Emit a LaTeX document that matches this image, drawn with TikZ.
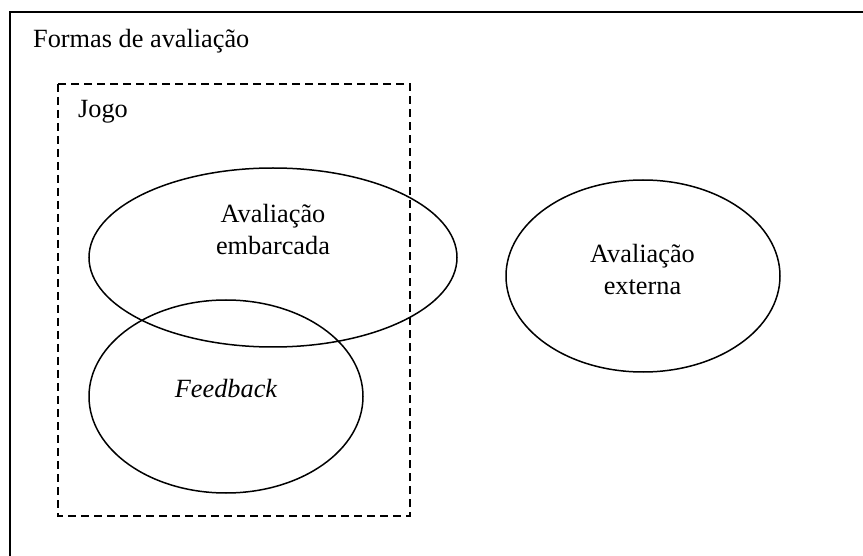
\documentclass[tikz,border=0pt]{standalone}
\usepackage{fontspec}
\setmainfont{Liberation Serif}
\usetikzlibrary{shapes.geometric}
\begin{document}
\begin{tikzpicture}[x=1pt,y=-1pt,
  every node/.style={font=\fontsize{26.3}{32}\selectfont},
  oval/.style={draw, ellipse, line width=1.5pt, inner sep=0pt},
  ]
\useasboundingbox (0,0) rectangle (863,556);
\clip (0,0) rectangle (863,556);
\draw[line width=2pt] (10,12) rectangle (900,600);
\node[anchor=base west, inner sep=0pt] (title) at (33,48) {Formas de avaliação};
\draw[dash pattern=on 8pt off 5pt, line width=1.5pt] (58,84) rectangle (410,516);
\node[anchor=base west, inner sep=0pt] (jogo) at (78,118) {Jogo};
\node[oval, minimum width=368pt, minimum height=179pt] (emb) at (273,257.5) {};
\node[oval, minimum width=274pt, minimum height=193pt] (fb) at (226,396.5) {};
\node[oval, minimum width=274pt, minimum height=192pt] (ext) at (643,276) {};
\node[anchor=base, inner sep=0pt] (embA) at (273,223) {Avaliação};
\node[anchor=base, inner sep=0pt] (embB) at (273,255) {embarcada};
\node[anchor=base, inner sep=0pt] (fbt) at (226,397) {\itshape Feedback};
\node[anchor=base, inner sep=0pt] (extA) at (642.5,263) {Avaliação};
\node[anchor=base, inner sep=0pt] (extB) at (642.5,295) {externa};
\end{tikzpicture}
\end{document}
